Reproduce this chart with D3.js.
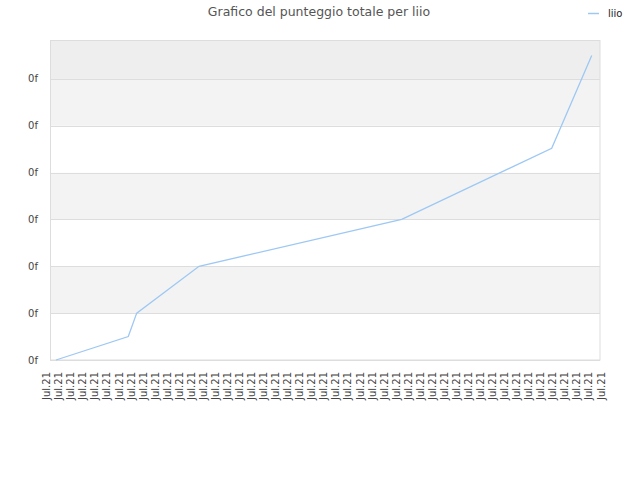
<!DOCTYPE html>
<html>
<head>
<meta charset="utf-8">
<script src="https://cdn.jsdelivr.net/npm/d3@7"></script>
<style>
  body { margin: 0; background: #fff; }
  text { font-family: "DejaVu Sans", sans-serif; }
</style>
</head>
<body>
<div id="chart"></div>
<script>
// data
var xLabels = ["Jul.21","Jul.21","Jul.21","Jul.21","Jul.21","Jul.21","Jul.21","Jul.21","Jul.21","Jul.21",
               "Jul.21","Jul.21","Jul.21","Jul.21","Jul.21","Jul.21","Jul.21","Jul.21","Jul.21","Jul.21",
               "Jul.21","Jul.21","Jul.21","Jul.21","Jul.21","Jul.21","Jul.21","Jul.21","Jul.21","Jul.21",
               "Jul.21","Jul.21","Jul.21","Jul.21","Jul.21","Jul.21","Jul.21","Jul.21","Jul.21","Jul.21",
               "Jul.21","Jul.21","Jul.21","Jul.21","Jul.21","Jul.21","Jul.21"];
var pointPos = [0.77, 6.77, 7.47, 12.64, 29.46, 41.91, 45.23];
var scores   = [0, 0.5, 1.0, 2.0, 3.0, 4.52, 6.5];
var yTicks   = [0, 1, 2, 3, 4, 5, 6];
var yTickLabels = ["0f","0f","0f","0f","0f","0f","0f"];

var W = 640, H = 480;
var margin = {top: 40, right: 40, bottom: 120, left: 50},
    width = W - margin.left - margin.right,
    height = H - margin.top - margin.bottom;

var svg = d3.select("#chart")
  .append("svg")
    .attr("width", W)
    .attr("height", H);

var g = svg.append("g")
    .attr("transform", "translate(" + margin.left + "," + margin.top + ")");

var y = d3.scaleLinear()
  .domain([0, 6.83])
  .range([height, 0]);

// labels sit slightly left of the plot edge, one per index
var x = d3.scaleLinear()
  .domain([0, xLabels.length - 1])
  .range([-3.3, 551]);

// background bands
var bands = [];
for (var i = 0; i < yTicks.length; i++) {
  var lo = yTicks[i], hi = i + 1 < yTicks.length ? yTicks[i + 1] : y.domain()[1];
  bands.push({lo: lo, hi: hi, i: i});
}
g.selectAll("rect.band")
  .data(bands)
  .enter()
  .append("rect")
    .attr("class", "band")
    .attr("x", 0)
    .attr("width", width)
    .attr("y", function(d) { return y(d.hi); })
    .attr("height", function(d) { return y(d.lo) - y(d.hi); })
    .attr("fill", function(d) {
      if (d.i == yTicks.length - 1) return "#eeeeee";
      return d.i % 2 == 1 ? "#f3f3f3" : "#ffffff";
    });

// grid lines
g.selectAll("line.grid")
  .data(yTicks)
  .enter()
  .append("line")
    .attr("class", "grid")
    .attr("x1", 0)
    .attr("x2", width)
    .attr("y1", function(d) { return Math.round(y(d)) + 0.5; })
    .attr("y2", function(d) { return Math.round(y(d)) + 0.5; })
    .attr("stroke", "#dddddd");

// frame
g.append("rect")
  .attr("x", 0.5)
  .attr("y", 0.5)
  .attr("width", width - 0.5)
  .attr("height", height - 0.5)
  .attr("fill", "none")
  .attr("stroke", "#dddddd");

// y labels
g.selectAll("text.ylab")
  .data(yTicks)
  .enter()
  .append("text")
    .attr("class", "ylab")
    .attr("x", -12)
    .attr("y", function(d) { return y(d); })
    .attr("dy", "0.35em")
    .attr("text-anchor", "end")
    .attr("font-size", 10)
    .attr("fill", "#444")
    .text(function(d, i) { return yTickLabels[i]; });

// x labels
g.selectAll("text.xlab")
  .data(xLabels)
  .enter()
  .append("text")
    .attr("class", "xlab")
    .attr("text-anchor", "end")
    .attr("font-size", 10)
    .attr("fill", "#444")
    .attr("dy", "0.35em")
    .attr("transform", function(d, i) {
      return "translate(" + x(i) + "," + (height + 12) + ")rotate(-90)";
    })
    .text(function(d) { return d; });

// the line
var line = d3.line()
  .x(function(d, i) { return x(pointPos[i]); })
  .y(function(d) { return y(d); });

g.append("path")
  .datum(scores)
  .attr("d", line)
  .attr("fill", "none")
  .attr("stroke", "#9dc8f3")
  .attr("stroke-width", 1.3);

// title
svg.append("text")
  .attr("x", 319)
  .attr("y", 16)
  .attr("text-anchor", "middle")
  .attr("font-size", 12.5)
  .attr("fill", "#555")
  .text("Grafico del punteggio totale per liio");

// legend
svg.append("line")
  .attr("x1", 588)
  .attr("x2", 599)
  .attr("y1", 13.5)
  .attr("y2", 13.5)
  .attr("stroke", "#9dc8f3")
  .attr("stroke-width", 1.5);
svg.append("text")
  .attr("x", 608)
  .attr("y", 13)
  .attr("dy", "0.35em")
  .attr("font-size", 10)
  .attr("fill", "#222")
  .text("liio");
</script>
</body>
</html>
